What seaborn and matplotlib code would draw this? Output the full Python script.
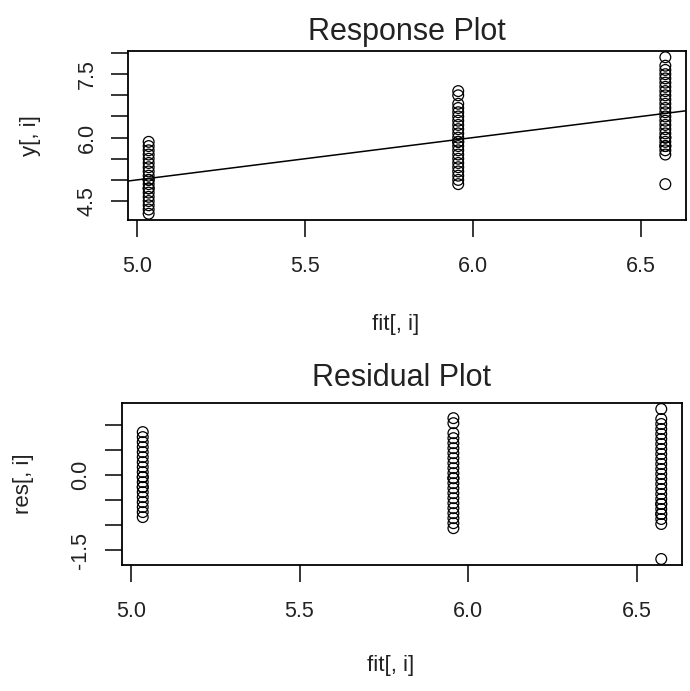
import pandas as pd
import matplotlib
matplotlib.use('Agg')
import matplotlib.pyplot as plt
from matplotlib.ticker import MultipleLocator, FuncFormatter
import seaborn as sns

GROUP_A = [4.2, 4.3, 4.4, 4.5, 4.6, 4.7, 4.8, 4.8, 4.9, 5.0,
           5.0, 5.1, 5.2, 5.3, 5.4, 5.5, 5.6, 5.7, 5.8, 5.9]
GROUP_B = [4.9, 5.0, 5.1, 5.2, 5.3, 5.4, 5.5, 5.6, 5.7, 5.8, 5.9, 5.9,
           6.0, 6.1, 6.2, 6.3, 6.4, 6.5, 6.6, 6.7, 6.8, 7.0, 7.1]
GROUP_C = [4.9, 5.6, 5.7, 5.8, 5.8, 5.9, 6.0, 6.0, 6.1, 6.2, 6.3, 6.4, 6.5,
           6.6, 6.7, 6.8, 6.9, 7.0, 7.1, 7.2, 7.3, 7.4, 7.5, 7.6, 7.7, 7.9]

TITLES = ['Response Plot', 'Residual Plot']
X_LABEL = 'fit[, i]'
Y_LABELS = ['y[, i]', 'res[, i]']


def build_frame():
    rows = []
    for name, vals in [('A', GROUP_A), ('B', GROUP_B), ('C', GROUP_C)]:
        rows += [(name, v) for v in vals]
    df = pd.DataFrame(rows, columns=['group', 'y'])
    # one-way fit: the fitted value is the group mean
    df['fit'] = df.groupby('group')['y'].transform('mean')
    df['res'] = df['y'] - df['fit']
    return df


def r_limits(values):
    lo, hi = min(values), max(values)
    pad = 0.04 * (hi - lo)
    return lo - pad, hi + pad


def style_axis(ax, title, ylabel, title_pad):
    ax.xaxis.set_major_locator(MultipleLocator(0.5))
    ax.yaxis.set_major_locator(MultipleLocator(0.5))
    ax.xaxis.set_major_formatter(FuncFormatter(lambda v, p: f'{v:.1f}'))
    # R drops overlapping labels: only every third tick keeps its label
    ax.yaxis.set_major_formatter(FuncFormatter(
        lambda v, p: f'{v:.1f}' if abs(round(v / 1.5) * 1.5 - v) < 1e-6 else ''))
    ax.tick_params(axis='both', direction='out', length=12, width=1.1,
                   labelsize=15.5, color='black', labelcolor='#222222',
                   bottom=True, left=True)
    ax.tick_params(axis='x', pad=14)
    ax.tick_params(axis='y', labelrotation=90, pad=10)
    for t in ax.get_yticklabels():
        t.set_va('center')
    for s in ax.spines.values():
        s.set_visible(True)
        s.set_linewidth(1.3)
        s.set_color('black')
    ax.set_title(title, fontsize=22, pad=title_pad, color='#222222')
    ax.set_xlabel(X_LABEL, fontsize=16, color='#222222', va='center')
    ax.set_ylabel(ylabel, fontsize=16, color='#222222', va='center')
    ax.xaxis.set_label_coords(0.48, -0.62)
    ax.yaxis.set_label_coords(-0.175, 0.5)
    ax.grid(False)


def main():
    df = build_frame()

    sns.set_style('ticks')
    plt.rcParams['font.family'] = ['Liberation Sans', 'DejaVu Sans']

    fig = plt.figure(figsize=(6.9, 6.91), dpi=100)
    W, H = 690, 691
    ax1 = fig.add_axes([128 / W, 1 - 220 / H, 558 / W, 169 / H])
    ax2 = fig.add_axes([122 / W, 1 - 565 / H, 560 / W, 162 / H])

    marker_kw = dict(marker='o', s=60, facecolor='none', edgecolor='black',
                     linewidth=0.9, legend=False)

    sns.scatterplot(data=df, x='fit', y='y', ax=ax1, **marker_kw)
    ax1.set_xlim(*r_limits(df['fit']))
    ax1.set_ylim(*r_limits(df['y']))
    ax1.axline((0, 0), slope=1, color='black', linewidth=1.1)
    style_axis(ax1, TITLES[0], Y_LABELS[0], 8)

    sns.scatterplot(data=df, x='fit', y='res', ax=ax2, **marker_kw)
    ax2.set_xlim(*r_limits(df['fit']))
    ax2.set_ylim(*r_limits(df['res']))
    style_axis(ax2, TITLES[1], Y_LABELS[1], 12)

    fig.savefig('out.png', dpi=100, facecolor='white')


if __name__ == '__main__':
    main()
